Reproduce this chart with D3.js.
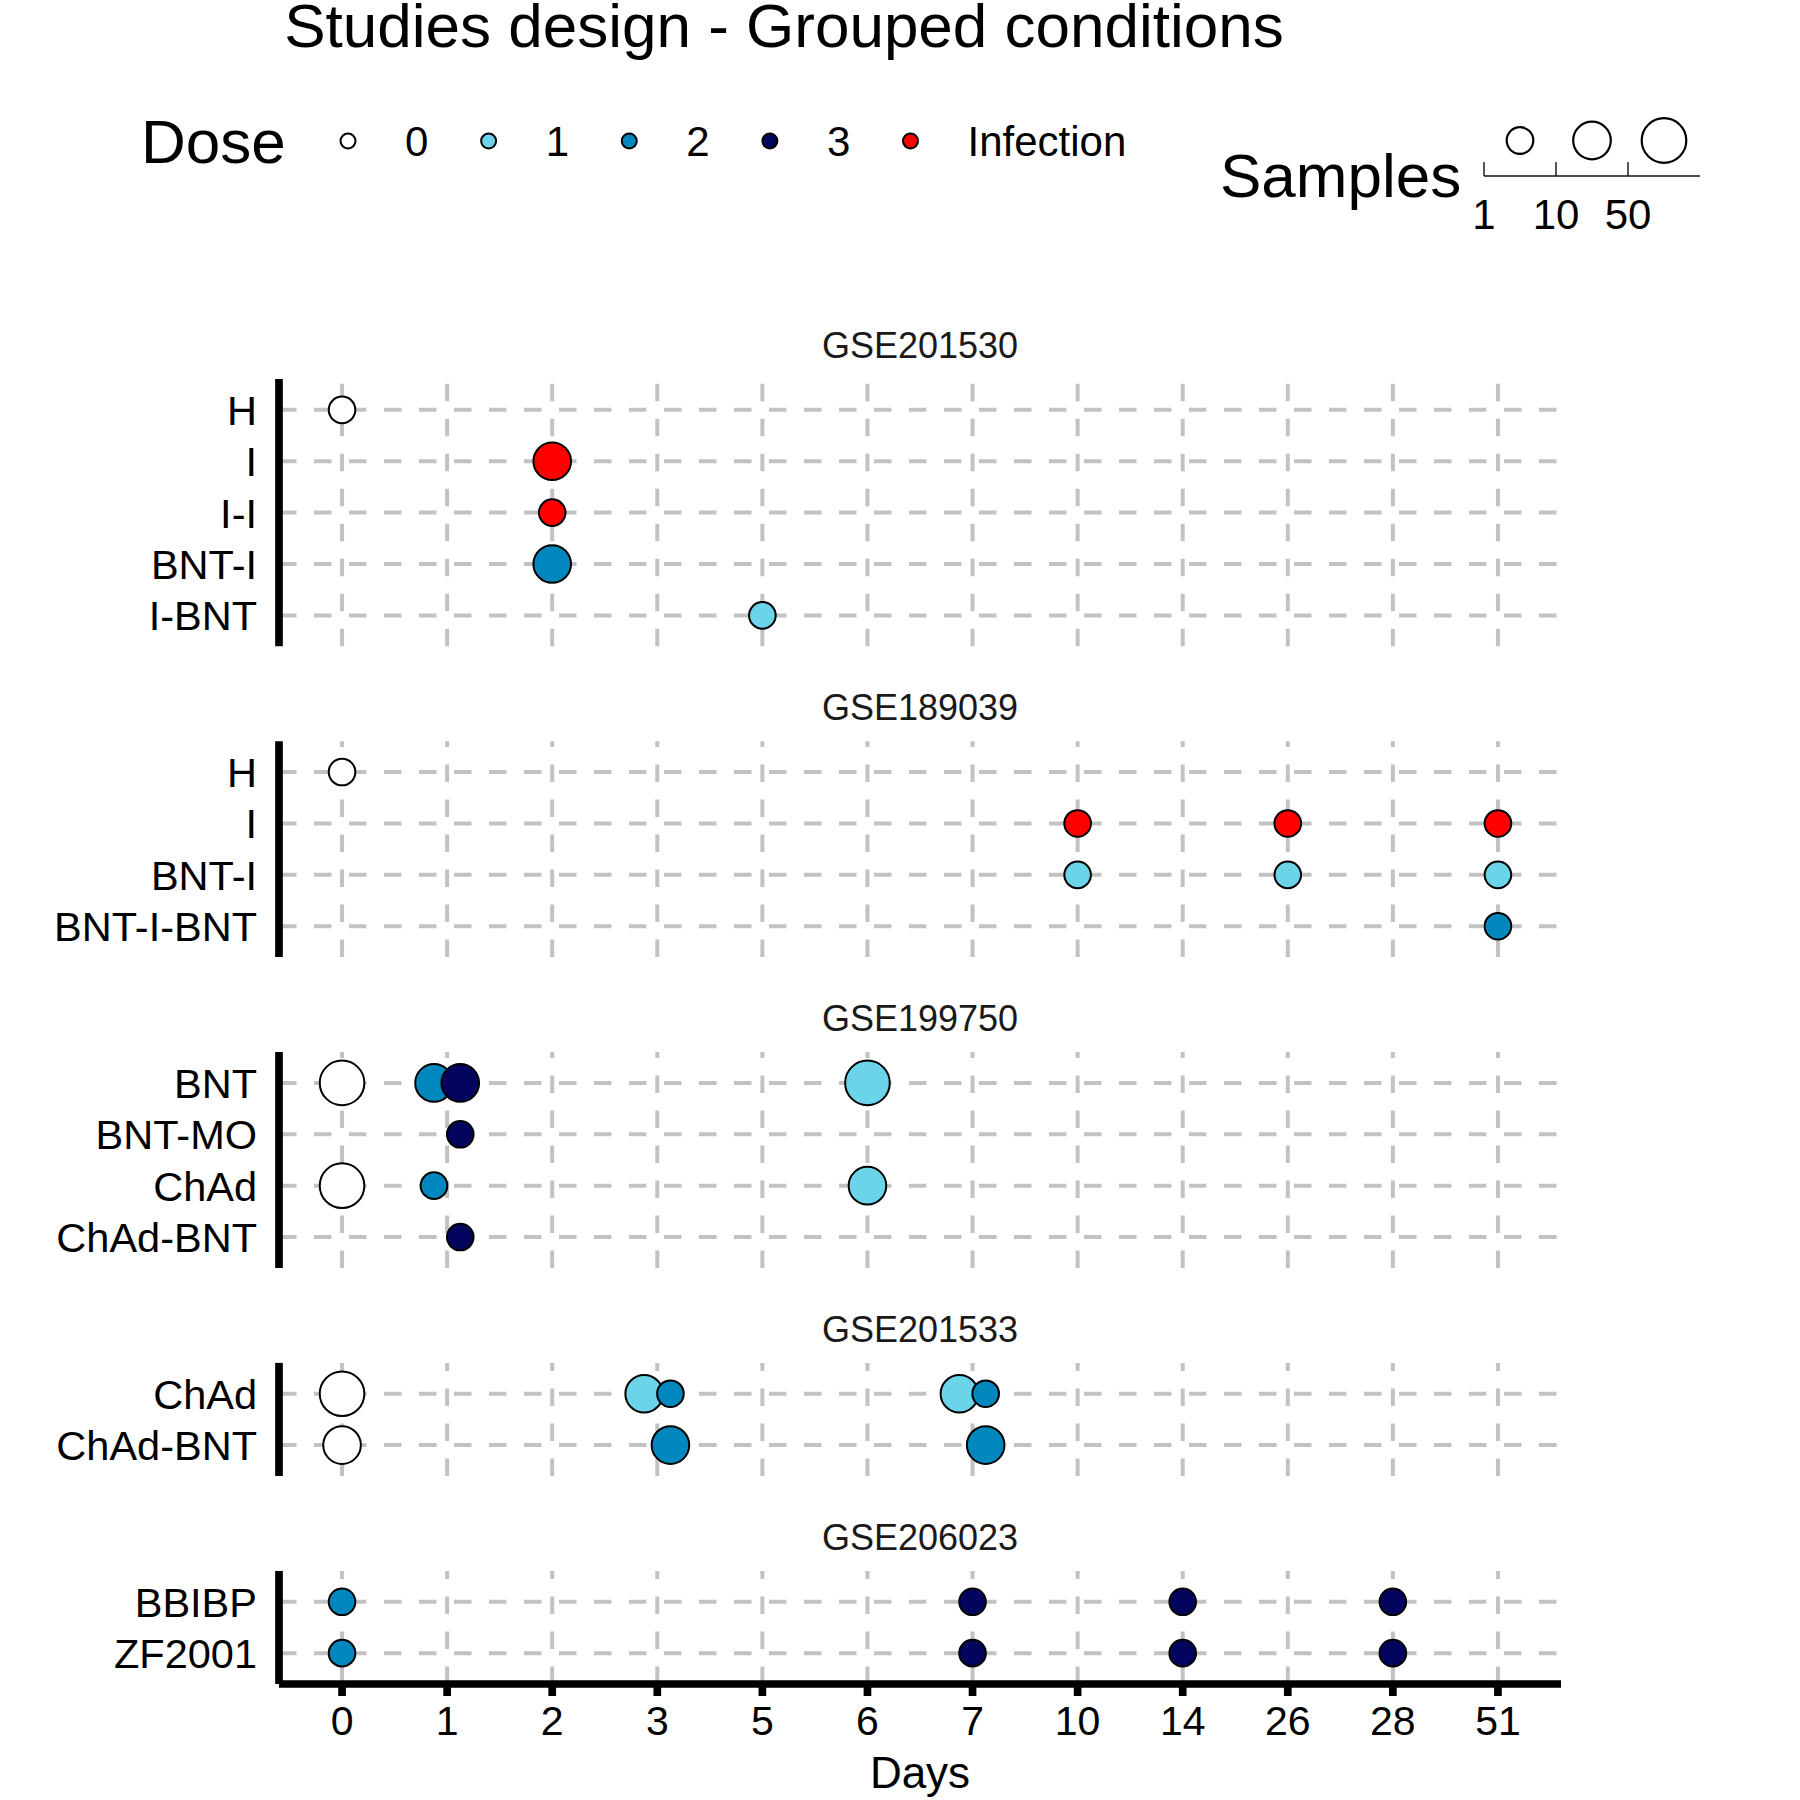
<!DOCTYPE html>
<html>
<head>
<meta charset="utf-8">
<script src="https://cdn.jsdelivr.net/npm/d3@7"></script>
<style>
  html, body { margin: 0; padding: 0; background: #ffffff; }
  svg { display: block; font-family: "Liberation Sans", Arial, Helvetica, sans-serif; }
</style>
</head>
<body>
<svg id="chart" width="1800" height="1800"></svg>
<script>
// ---------------- DATA ----------------
const chartTitle = "Studies design - Grouped conditions";
const xTitle = "Days";
const dayLabels = ["0", "1", "2", "3", "5", "6", "7", "10", "14", "26", "28", "51"];
const doseLevels = ["0", "1", "2", "3", "Infection"];
const doseColors = ["#FFFFFF", "#6CD4E8", "#0087BE", "#03045E", "#FF0000"];
const sampleBreaks = ["1", "10", "50"];
const sampleThresholds = [10, 50];

const studies = ["GSE201530", "GSE189039", "GSE199750", "GSE201533", "GSE206023"];
const dodgedStudies = ["GSE199750", "GSE201533"];

const rowsGSE201530 = ["H", "I", "I-I", "BNT-I", "I-BNT"];
const rowsGSE189039 = ["H", "I", "BNT-I", "BNT-I-BNT"];
const rowsGSE199750 = ["BNT", "BNT-MO", "ChAd", "ChAd-BNT"];
const rowsGSE201533 = ["ChAd", "ChAd-BNT"];
const rowsGSE206023 = ["BBIBP", "ZF2001"];

// [condition, day, dose, samples]
const pointsGSE201530 = [
  ["H", "0", "0", 6],
  ["I", "2", "Infection", 18],
  ["I-I", "2", "Infection", 4],
  ["BNT-I", "2", "2", 16],
  ["I-BNT", "5", "1", 5]
];
const pointsGSE189039 = [
  ["H", "0", "0", 5],
  ["I", "10", "Infection", 6],
  ["I", "26", "Infection", 6],
  ["I", "51", "Infection", 6],
  ["BNT-I", "10", "1", 5],
  ["BNT-I", "26", "1", 5],
  ["BNT-I", "51", "1", 5],
  ["BNT-I-BNT", "51", "2", 4]
];
const pointsGSE199750 = [
  ["BNT", "0", "0", 60],
  ["ChAd", "0", "0", 55],
  ["BNT", "1", "2", 25],
  ["ChAd", "1", "2", 8],
  ["BNT", "1", "3", 30],
  ["BNT-MO", "1", "3", 6],
  ["ChAd-BNT", "1", "3", 7],
  ["BNT", "6", "1", 58],
  ["ChAd", "6", "1", 22]
];
const pointsGSE201533 = [
  ["ChAd", "0", "0", 52],
  ["ChAd-BNT", "0", "0", 20],
  ["ChAd", "3", "1", 24],
  ["ChAd", "3", "2", 8],
  ["ChAd-BNT", "3", "2", 21],
  ["ChAd", "7", "1", 24],
  ["ChAd", "7", "2", 8],
  ["ChAd-BNT", "7", "2", 21]
];
const pointsGSE206023 = [
  ["BBIBP", "0", "2", 5],
  ["ZF2001", "0", "2", 5],
  ["BBIBP", "7", "3", 5],
  ["ZF2001", "7", "3", 5],
  ["BBIBP", "14", "3", 5],
  ["ZF2001", "14", "3", 5],
  ["BBIBP", "28", "3", 5],
  ["ZF2001", "28", "3", 5]
];

const studyRows = [rowsGSE201530, rowsGSE189039, rowsGSE199750, rowsGSE201533, rowsGSE206023];
const studyPoints = [pointsGSE201530, pointsGSE189039, pointsGSE199750, pointsGSE201533, pointsGSE206023];

(function () {
// ---------------- LAYOUT ----------------
const panelLeft = 279, panelRight = 1561;
const panelsTop = 379, panelsBottom = 1684;
const panelGap = 95;
const gridColor = "#C2C2C2";

const svg = d3.select("#chart");

const x = d3.scalePoint().domain(dayLabels).range([panelLeft, panelRight]).padding(0.6);
const color = d3.scaleOrdinal().domain(doseLevels).range(doseColors);
const radius = d3.scaleThreshold().domain(sampleThresholds).range([13.3, 18.8, 22.3]);

const totalUnits = d3.sum(studyRows, r => r.length + 0.2);
const rowStep = (panelsBottom - panelsTop - panelGap * (studies.length - 1)) / totalUnits;

// Title
svg.append("text")
  .attr("x", 784).attr("y", 47)
  .attr("text-anchor", "middle")
  .attr("font-size", 62).attr("fill", "#000")
  .text(chartTitle);

// Dose legend
svg.append("text")
  .attr("x", 141).attr("y", 162.5)
  .attr("font-size", 62).attr("fill", "#000")
  .text("Dose");
const legX = d3.scalePoint().domain(doseLevels).range([348, 910.5]);
const legG = svg.append("g");
doseLevels.forEach(d => {
  legG.append("circle")
    .attr("cx", legX(d)).attr("cy", 141).attr("r", 7.5)
    .attr("fill", color(d)).attr("stroke", "#000").attr("stroke-width", 2);
  legG.append("text")
    .attr("x", legX(d) + 57).attr("y", 156)
    .attr("font-size", 42).attr("fill", "#000")
    .text(d);
});

// Samples legend
svg.append("text")
  .attr("x", 1220).attr("y", 196.5)
  .attr("font-size", 62).attr("fill", "#000")
  .text("Samples");
const sBin = d3.scaleLinear().domain([0, sampleBreaks.length]).range([1484, 1700]);
const sampleReps = [1].concat(sampleThresholds);
const sG = svg.append("g");
sG.append("line")
  .attr("x1", sBin(0)).attr("x2", sBin(sampleBreaks.length))
  .attr("y1", 176).attr("y2", 176)
  .attr("stroke", "#111").attr("stroke-width", 1.4);
sampleBreaks.forEach((b, i) => {
  sG.append("line")
    .attr("x1", sBin(i)).attr("x2", sBin(i))
    .attr("y1", 162).attr("y2", 176)
    .attr("stroke", "#111").attr("stroke-width", 1.4);
  sG.append("text")
    .attr("x", sBin(i)).attr("y", 229)
    .attr("text-anchor", "middle")
    .attr("font-size", 42).attr("fill", "#000")
    .text(b);
  sG.append("circle")
    .attr("cx", sBin(i + 0.5)).attr("cy", 140.5)
    .attr("r", radius(sampleReps[i]))
    .attr("fill", "#fff").attr("stroke", "#000").attr("stroke-width", 2.2);
});

// Panels
let panelTop = panelsTop;
studies.forEach((study, si) => {
  const rows = studyRows[si];
  const h = (rows.length + 0.2) * rowStep;
  const bottom = panelTop + h;
  const y = d3.scalePoint().domain(rows).range([panelTop, bottom]).padding(0.6);
  const g = svg.append("g");

  // strip label
  g.append("text")
    .attr("x", (panelLeft + panelRight) / 2).attr("y", panelTop - 21)
    .attr("text-anchor", "middle")
    .attr("font-size", 36).attr("fill", "#1A1A1A")
    .text(study);

  // grid: horizontal
  g.selectAll(".hg").data(rows).enter().append("line")
    .attr("x1", panelLeft).attr("x2", panelRight)
    .attr("y1", d => y(d)).attr("y2", d => y(d))
    .attr("stroke", gridColor).attr("stroke-width", 4)
    .attr("stroke-dasharray", "17.5,17.5");
  // grid: vertical (drawn bottom to top)
  g.selectAll(".vg").data(dayLabels).enter().append("line")
    .attr("x1", d => x(d)).attr("x2", d => x(d))
    .attr("y1", bottom).attr("y2", panelTop)
    .attr("stroke", gridColor).attr("stroke-width", 4)
    .attr("stroke-dasharray", "17.5,17.5");

  // dodge offsets
  const pts = studyPoints[si].map(p => ({cond: p[0], day: p[1], dose: p[2], samples: p[3]}));
  const dodge = dodgedStudies.includes(study);
  const dodgeWidth = 0.5 * x.step();
  pts.forEach(p => {
    p.off = 0;
    if (dodge) {
      const doses = Array.from(new Set(pts.filter(q => q.day === p.day).map(q => q.dose)))
        .sort((a, b) => doseLevels.indexOf(a) - doseLevels.indexOf(b));
      const n = doses.length;
      const i = doses.indexOf(p.dose);
      p.off = (i - (n - 1) / 2) * (dodgeWidth / n);
    }
  });

  g.selectAll(".pt").data(pts).enter().append("circle")
    .attr("cx", d => x(d.day) + d.off)
    .attr("cy", d => y(d.cond))
    .attr("r", d => radius(d.samples))
    .attr("fill", d => color(d.dose))
    .attr("stroke", "#000").attr("stroke-width", 2);

  // y axis labels
  g.selectAll(".yl").data(rows).enter().append("text")
    .attr("x", 257).attr("y", d => y(d))
    .attr("dy", "0.36em")
    .attr("text-anchor", "end")
    .attr("font-size", 41.5).attr("fill", "#000")
    .text(d => d);

  // y axis line
  g.append("line")
    .attr("x1", panelLeft).attr("x2", panelLeft)
    .attr("y1", panelTop).attr("y2", bottom)
    .attr("stroke", "#000").attr("stroke-width", 7.7);

  if (si === studies.length - 1) {
    // x axis
    const ax = svg.append("g");
    ax.append("line")
      .attr("x1", panelLeft).attr("x2", panelRight)
      .attr("y1", bottom).attr("y2", bottom)
      .attr("stroke", "#000").attr("stroke-width", 7.7);
    ax.selectAll(".xt").data(dayLabels).enter().append("line")
      .attr("x1", d => x(d)).attr("x2", d => x(d))
      .attr("y1", bottom).attr("y2", bottom + 12)
      .attr("stroke", "#000").attr("stroke-width", 7.7);
    ax.selectAll(".xl").data(dayLabels).enter().append("text")
      .attr("x", d => x(d)).attr("y", 1735)
      .attr("text-anchor", "middle")
      .attr("font-size", 41).attr("fill", "#000")
      .text(d => d);
    ax.append("text")
      .attr("x", (panelLeft + panelRight) / 2).attr("y", 1788)
      .attr("text-anchor", "middle")
      .attr("font-size", 44).attr("fill", "#000")
      .text(xTitle);
  }
  panelTop = bottom + panelGap;
});
})();
</script>
</body>
</html>
